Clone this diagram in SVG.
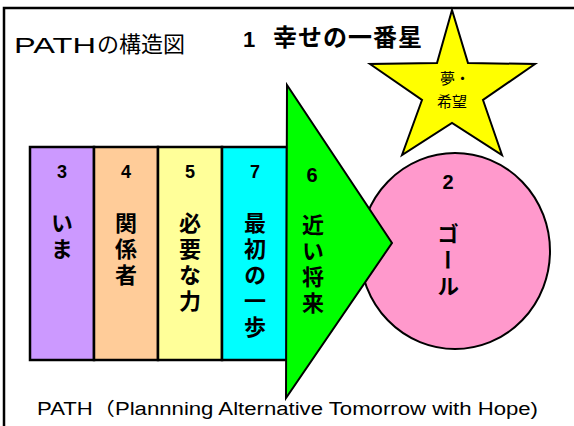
<svg xmlns="http://www.w3.org/2000/svg" width="574" height="426" viewBox="0 0 574 426">
<style>
.box{stroke:#000;stroke-width:2.5}
.shape{stroke:#000;stroke-width:2;stroke-linejoin:miter}
.lat{font-family:"Liberation Sans","Noto Sans CJK JP",sans-serif;fill:#000}
.jp{font-family:"Noto Sans CJK JP","Noto Sans",sans-serif;fill:#000}
.num{font-family:"Liberation Sans","Noto Sans CJK JP",sans-serif;font-size:18px;font-weight:bold;text-anchor:middle;fill:#000}
.vt{font-family:"Noto Sans CJK JP",sans-serif;font-size:22px;font-weight:bold;writing-mode:vertical-rl;letter-spacing:4px;fill:#000}
</style>
<rect x="0" y="0" width="574" height="426" fill="#fff"/>
<rect x="4" y="8" width="590" height="440" fill="none" stroke="#000" stroke-width="2.5"/>
<g id="title">
<text class="lat" x="14" y="53" font-size="22" textLength="82" lengthAdjust="spacingAndGlyphs">PATH</text>
<text class="jp" x="97" y="52" font-size="22">の構造図</text>
</g>
<g id="node1-title">
<text class="lat" x="243" y="47" font-size="22" font-weight="bold">1</text>
<text class="jp" x="273" y="46" font-size="24" font-weight="bold" letter-spacing="1">幸せの一番星</text>
</g>
<g id="node3">
<rect class="box" x="30" y="147" width="64" height="213" fill="#cc99ff"/>
<text class="num" x="62" y="178">3</text>
<text class="vt" x="62" y="212">いま</text>
</g>
<g id="node4">
<rect class="box" x="94" y="147" width="64" height="213" fill="#ffcc99"/>
<text class="num" x="126" y="178">4</text>
<text class="vt" x="126" y="212">関係者</text>
</g>
<g id="node5">
<rect class="box" x="158" y="147" width="64" height="213" fill="#ffff99"/>
<text class="num" x="190" y="178">5</text>
<text class="vt" x="190" y="212">必要な力</text>
</g>
<g id="node7">
<rect class="box" x="222" y="147" width="65" height="213" fill="#00ffff"/>
<text class="num" x="255" y="178">7</text>
<text class="vt" x="255" y="212">最初の一歩</text>
</g>
<g id="node2">
<ellipse class="shape" cx="455" cy="251" rx="95" ry="98" fill="#ff99cc"/>
<text class="num" x="448" y="189" style="font-size:20px">2</text>
<text class="vt" x="448" y="223">ゴール</text>
</g>
<g id="node6">
<polygon class="shape" points="287,85 392,243 286,398" fill="#00ff00"/>
<text class="num" x="312" y="182" style="font-size:20px">6</text>
<text class="vt" x="313" y="214">近い将来</text>
</g>
<g id="star">
<polygon class="shape" points="452,10 468,63 535,64 483,100 502,155 452,123 402,155 422,100 370,64 437,63" fill="#ffff00"/>
<text class="jp" x="455" y="84" font-size="15" text-anchor="middle">夢・</text>
<text class="jp" x="452" y="107" font-size="15" text-anchor="middle">希望</text>
</g>
<g id="connectors"/>
<g id="caption">
<text class="lat" x="37" y="415" font-size="18" textLength="501" lengthAdjust="spacingAndGlyphs">PATH（Plannning Alternative Tomorrow with Hope)</text>
</g>
</svg>
